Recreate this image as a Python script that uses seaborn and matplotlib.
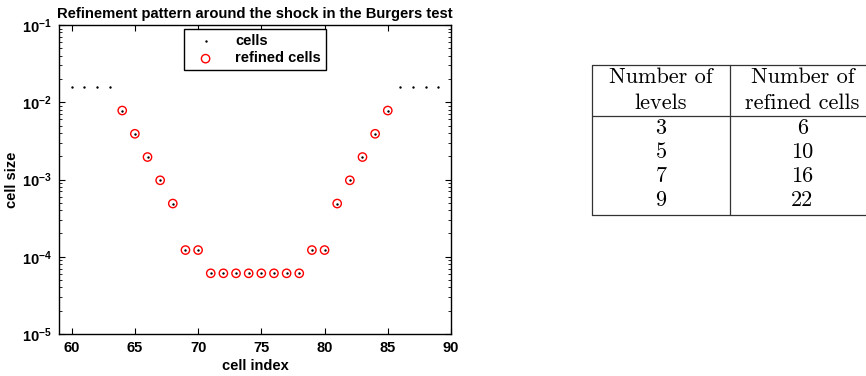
import numpy as np
import pandas as pd
import matplotlib
matplotlib.use("Agg")
import matplotlib.pyplot as plt
from matplotlib.lines import Line2D
import seaborn as sns

# ---------------- data ----------------
cell_index = list(range(60, 90))
cell_size = [0.015625, 0.015625, 0.015625, 0.015625,
             0.0078125, 0.00390625, 0.001953125, 0.0009765625, 0.00048828125,
             0.0001220703125, 0.0001220703125,
             0.00006103515625, 0.00006103515625, 0.00006103515625, 0.00006103515625,
             0.00006103515625, 0.00006103515625, 0.00006103515625, 0.00006103515625,
             0.0001220703125, 0.0001220703125,
             0.00048828125, 0.0009765625, 0.001953125, 0.00390625, 0.0078125,
             0.015625, 0.015625, 0.015625, 0.015625]
refined_index = list(range(64, 86))
refined_size = [0.0078125, 0.00390625, 0.001953125, 0.0009765625, 0.00048828125,
                0.0001220703125, 0.0001220703125,
                0.00006103515625, 0.00006103515625, 0.00006103515625, 0.00006103515625,
                0.00006103515625, 0.00006103515625, 0.00006103515625, 0.00006103515625,
                0.0001220703125, 0.0001220703125,
                0.00048828125, 0.0009765625, 0.001953125, 0.00390625, 0.0078125]

x_ticks = [60, 65, 70, 75, 80, 85, 90]
y_ticks = [1e-5, 1e-4, 1e-3, 1e-2, 1e-1]
y_tick_labels = [r"$\mathbf{10^{-5}}$", r"$\mathbf{10^{-4}}$", r"$\mathbf{10^{-3}}$",
                 r"$\mathbf{10^{-2}}$", r"$\mathbf{10^{-1}}$"]

table_header_1 = ["Number of", "levels"]
table_header_2 = ["Number of", "refined cells"]
levels = [3, 5, 7, 9]
refined_counts = [6, 10, 16, 22]

# ---------------- style ----------------
sns.set_style("ticks")
plt.rcParams["font.family"] = ["Liberation Sans", "DejaVu Sans"]
plt.rcParams["font.weight"] = "bold"
plt.rcParams["text.color"] = "black"
plt.rcParams["axes.labelcolor"] = "black"
plt.rcParams["xtick.color"] = "black"
plt.rcParams["ytick.color"] = "black"
plt.rcParams["mathtext.fontset"] = "custom"
plt.rcParams["mathtext.rm"] = "Liberation Sans:bold"
plt.rcParams["mathtext.bf"] = "Liberation Sans:bold"
plt.rcParams["mathtext.it"] = "Liberation Sans:bold"

W, H = 866, 376
fig = plt.figure(figsize=(W / 100, H / 100), dpi=100)
ax = fig.add_axes([59 / W, 1 - 334 / H, (451 - 59) / W, (334 - 25) / H])

df_cells = pd.DataFrame({"x": cell_index, "y": cell_size})
df_ref = pd.DataFrame({"x": refined_index, "y": refined_size})

sns.scatterplot(data=df_ref, x="x", y="y", ax=ax, marker="o", s=36,
                color="red", facecolor="none", edgecolor="red", linewidth=1.0,
                label="refined cells", zorder=3)
sns.scatterplot(data=df_cells, x="x", y="y", ax=ax, marker=".", s=12,
                color="black", edgecolor="black", linewidth=0,
                label="cells", zorder=4)

ax.set_yscale("log")
ax.set_xlim(59, 90)
ax.set_ylim(1e-5, 1e-1)
ax.set_xticks(x_ticks)
ax.set_xticklabels([str(v) for v in x_ticks], fontsize=10.5, fontweight="bold")
ax.set_yticks(y_ticks)
ax.set_yticklabels(y_tick_labels, fontsize=10.5)
ax.tick_params(axis="both", which="major", direction="in", length=4, width=0.8,
               top=True, right=True, pad=5, colors="black")
ax.tick_params(axis="y", which="minor", direction="in", length=2, width=0.6,
               left=True, right=True)
for sp in ax.spines.values():
    sp.set_visible(True)
    sp.set_linewidth(1.0)
    sp.set_color("black")

ax.set_xlabel("cell index", fontsize=10.5, fontweight="bold", labelpad=3)
ax.set_ylabel("cell size", fontsize=10.5, fontweight="bold", labelpad=2)
ax.set_title("Refinement pattern around the shock in the Burgers test",
             fontsize=10.6, fontweight="bold", pad=5)

handles, labels = ax.get_legend_handles_labels()
order = [labels.index("cells"), labels.index("refined cells")]
leg = ax.legend([handles[i] for i in order], [labels[i] for i in order],
                loc="upper center", bbox_to_anchor=(0.5, 0.995), frameon=True,
                fancybox=False, edgecolor="black", framealpha=1,
                prop={"weight": "bold", "size": 10.5}, handletextpad=0.9,
                borderpad=0.3, labelspacing=0.25, handlelength=2.3,
                borderaxespad=0.2)
leg.get_frame().set_linewidth(1.0)

# ---------------- table ----------------
def fx(px):
    return px / W

def fy(py):
    return 1 - py / H

serif = ["cmr10", "DejaVu Serif"]
tsize = 16
x_left, x_mid, x_right = 592, 730, 866
col1_c = (x_left + x_mid) / 2
col2_c = (x_mid + 875) / 2

for (x0, y0, x1, y1) in [(x_left, 65, x_right, 65), (x_left, 116, x_right, 116),
                         (x_left, 215, x_right, 215),
                         (x_left, 65, x_left, 215), (x_mid, 65, x_mid, 215)]:
    fig.add_artist(Line2D([fx(x0), fx(x1)], [fy(y0), fy(y1)], color="#333333",
                          linewidth=0.9, transform=fig.transFigure))

for i, yy in enumerate([77, 103]):
    fig.text(fx(col1_c), fy(yy), table_header_1[i], ha="center", va="center",
             family=serif, fontsize=tsize, fontweight="normal")
    fig.text(fx(col2_c), fy(yy), table_header_2[i], ha="center", va="center",
             family=serif, fontsize=tsize, fontweight="normal")

for i, yy in enumerate([128, 152, 176, 200]):
    fig.text(fx(col1_c), fy(yy), str(levels[i]), ha="center", va="center",
             family=serif, fontsize=tsize, fontweight="normal")
    fig.text(fx(col2_c), fy(yy), str(refined_counts[i]), ha="center", va="center",
             family=serif, fontsize=tsize, fontweight="normal")

fig.savefig("out.png", dpi=100)
